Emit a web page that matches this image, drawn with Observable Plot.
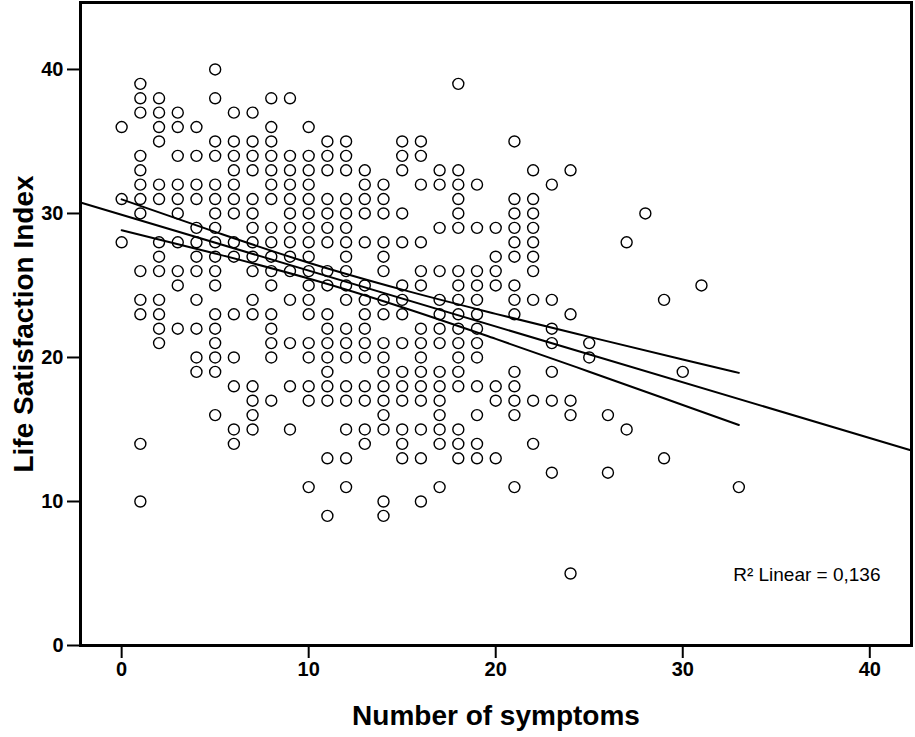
<!DOCTYPE html>
<html><head><meta charset="utf-8">
<script src="https://cdn.jsdelivr.net/npm/d3@7"></script>
<script src="https://cdn.jsdelivr.net/npm/@observablehq/plot@0.6"></script>
<style>body{margin:0;background:#fff}</style>
</head><body><div id="chart"></div>
<script>
// Number of symptoms (x categories)
const symptoms = [0,1,2,3,4,5,6,7,8,9,10,11,12,13,14,15,16,17,18,19,20,21,22,23,24,25,26,27,28,29,30,31,32,33];
// Life Satisfaction Index values observed at each number of symptoms
const satisfactionBySymptoms = [
  [36,31,28],
  [39,38,37,34,33,32,31,30,26,24,23,14,10],
  [38,37,36,35,32,31,28,27,26,24,23,22,21],
  [37,36,34,32,31,30,28,26,25,22],
  [36,34,32,31,29,28,27,26,24,22,20,19],
  [40,38,35,34,32,31,30,29,28,27,26,25,23,22,21,20,19,16],
  [37,35,34,33,32,31,30,28,27,23,20,18,15,14],
  [37,35,34,33,31,30,29,28,27,26,24,23,18,17,16,15],
  [38,36,35,34,33,32,31,29,28,27,26,25,23,22,21,20,17],
  [38,34,33,32,31,30,29,28,27,26,24,21,18,15],
  [36,34,33,32,31,30,29,28,27,26,25,24,23,21,20,18,17,11],
  [35,34,33,31,30,29,28,26,25,23,22,21,20,19,18,17,13,9],
  [35,34,33,31,30,29,28,27,26,25,24,22,21,20,18,17,15,13,11],
  [33,32,31,30,28,25,24,23,22,21,20,18,17,15,14],
  [32,31,30,28,27,26,24,23,21,20,19,18,17,16,15,10,9],
  [35,34,33,30,28,25,24,23,21,19,18,17,15,14,13],
  [35,34,32,28,26,25,22,21,20,19,18,17,15,13,10],
  [33,32,29,26,24,23,22,21,19,18,17,16,15,14,11],
  [39,33,32,31,30,29,26,25,24,23,22,21,20,19,18,15,14,13],
  [32,29,26,25,24,23,22,21,20,18,16,14,13],
  [29,27,26,25,18,17,13],
  [35,31,30,29,28,27,25,24,23,19,18,17,16,11],
  [33,31,30,29,28,27,26,24,17,14],
  [32,24,22,21,19,17,12],
  [33,23,17,16,5],
  [21,20],
  [16,12],
  [28,15],
  [30],
  [24,13],
  [19],
  [25],
  [],
  [11]
];
// Fit line (read at the frame edges)
const fitX = [-2.2, 42.23];
const fitY = [30.76, 13.54];
// 95% confidence band of the mean
const ciX = [0, 5, 10, 15, 20, 25, 30, 33];
const ciUpper = [30.98, 28.72, 26.58, 24.71, 23.03, 21.43, 19.86, 18.93];
const ciLower = [28.84, 27.22, 25.48, 23.49, 21.29, 19.01, 16.70, 15.31];
// Ticks and labels
const xTicks = [0, 10, 20, 30, 40];
const yTicks = [0, 10, 20, 30, 40];
const xTitle = "Number of symptoms";
const yTitle = "Life Satisfaction Index";
const r2Label = "R\u00B2 Linear = 0,136";

const points = symptoms.flatMap((s, i) => satisfactionBySymptoms[i].map(v => ({symptoms: s, satisfaction: v})));
const fit = fitX.map((x, i) => ({x, y: fitY[i]}));
const upper = ciX.map((x, i) => ({x, y: ciUpper[i]}));
const lower = ciX.map((x, i) => ({x, y: ciLower[i]}));

const chart = Plot.plot({
  width: 915, height: 737,
  marginLeft: 80, marginRight: 4, marginTop: 2, marginBottom: 92,
  x: {domain: [-2.2, 42.23]},
  y: {domain: [0, 44.65]},
  style: {fontFamily: "'Liberation Sans', Arial, sans-serif", background: "white", color: "black"},
  marks: [
    Plot.dot(points, {x: "symptoms", y: "satisfaction", r: 5.5, stroke: "black", strokeWidth: 1.4, fill: "none"}),
    Plot.line(fit, {x: "x", y: "y", stroke: "black", strokeWidth: 2}),
    Plot.line(upper, {x: "x", y: "y", stroke: "black", strokeWidth: 2, curve: "monotone-x"}),
    Plot.line(lower, {x: "x", y: "y", stroke: "black", strokeWidth: 2, curve: "monotone-x"}),
    Plot.frame({stroke: "black", strokeWidth: 3}),
    Plot.axisX({ticks: xTicks, tickSize: 13, tickPadding: 3, fontSize: 20, fontWeight: "bold", label: null, strokeWidth: 2}),
    Plot.axisY({ticks: yTicks, tickSize: 13, tickPadding: 4, fontSize: 20, fontWeight: "bold", label: null, strokeWidth: 2}),
    Plot.text([xTitle], {text: d => d, frameAnchor: "bottom", dy: 71, textAnchor: "middle", lineAnchor: "middle", fontSize: 28, fontWeight: "bold"}),
    Plot.text([yTitle], {text: d => d, frameAnchor: "left", dx: -56, rotate: -90, textAnchor: "middle", lineAnchor: "middle", fontSize: 28, fontWeight: "bold"}),
    Plot.text([r2Label], {text: d => d, frameAnchor: "bottom-right", dx: -31, dy: -65, textAnchor: "end", lineAnchor: "bottom", fontSize: 19})
  ]
});
document.getElementById("chart").appendChild(chart);
</script>
</body></html>
